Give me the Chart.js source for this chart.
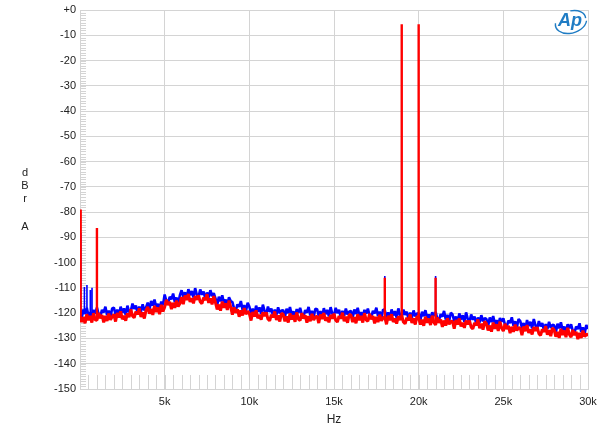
<!DOCTYPE html>
<html>
<head>
<meta charset="utf-8">
<script src="https://cdn.jsdelivr.net/npm/chart.js@4.4.1/dist/chart.umd.min.js"></script>
<style>
  html, body { margin: 0; padding: 0; background: #fff; }
</style>
</head>
<body>
<canvas id="chart" width="600" height="434"></canvas>
<script>
// noise floor readings, one every FREQ_STEP Hz from 0 to 30 kHz (dBrA)
const FREQ_STEP = 100;

const redFloor = [
  -120.8, -123.5, -121.6, -124.0, -120.4, -122.8, -121.1, -123.7, -120.0, -122.6,
  -122.8, -119.9, -122.0, -120.7, -123.6, -121.1, -123.1, -120.2, -122.6, -121.4,
  -120.5, -123.3, -119.9, -121.7, -119.3, -122.4, -121.0, -123.0, -120.1, -121.6,
  -118.5, -121.1, -121.8, -119.4, -120.4, -118.1, -121.5, -119.7, -122.1, -118.8,
  -117.5, -120.2, -118.3, -120.7, -117.1, -119.5, -117.8, -120.4, -116.7, -119.3,
  -117.6, -114.7, -116.8, -115.5, -118.4, -115.9, -117.9, -115.0, -117.4, -116.2,
  -113.6, -116.4, -113.0, -114.8, -112.4, -115.5, -114.1, -116.1, -113.2, -114.7,
  -112.9, -115.5, -116.2, -113.8, -114.8, -112.5, -115.9, -114.1, -116.5, -113.2,
  -115.8, -118.5, -116.6, -119.0, -115.4, -117.8, -116.1, -118.7, -115.0, -117.6,
  -120.6, -117.7, -119.8, -118.5, -121.4, -118.9, -120.9, -118.0, -120.4, -119.2,
  -120.1, -122.9, -119.5, -121.3, -118.9, -122.0, -120.6, -122.6, -119.7, -121.2,
  -119.7, -122.3, -123.0, -120.6, -121.6, -119.3, -122.7, -120.9, -123.3, -120.0,
  -120.5, -123.2, -121.3, -123.7, -120.1, -122.5, -120.8, -123.4, -119.7, -122.3,
  -122.9, -120.0, -122.1, -120.8, -123.7, -121.2, -123.2, -120.3, -122.7, -121.5,
  -121.1, -123.9, -120.5, -122.3, -119.9, -123.0, -121.6, -123.6, -120.7, -122.2,
  -120.2, -122.8, -123.5, -121.1, -122.1, -119.8, -123.2, -121.4, -123.8, -120.5,
  -120.8, -123.5, -121.6, -124.0, -120.4, -122.8, -121.1, -123.7, -120.0, -122.6,
  -123.2, -120.3, -122.4, -121.1, -124.0, -121.5, -123.5, -120.6, -123.0, -121.8,
  -121.6, -124.4, -121.0, -122.8, -120.4, -123.5, -122.1, -124.1, -121.2, -122.7,
  -120.9, -123.5, -124.2, -121.8, -122.8, -120.5, -123.9, -122.1, -124.5, -121.2,
  -121.8, -124.5, -122.6, -125.0, -121.4, -123.8, -122.1, -124.7, -121.0, -123.6,
  -124.6, -121.7, -123.8, -122.5, -125.4, -122.9, -124.9, -122.0, -124.4, -123.2,
  -123.3, -126.1, -122.7, -124.5, -122.1, -125.2, -123.8, -125.8, -122.9, -124.4,
  -122.9, -125.5, -126.2, -123.8, -124.8, -122.5, -125.9, -124.1, -126.5, -123.2,
  -124.1, -126.8, -124.9, -127.3, -123.7, -126.1, -124.4, -127.0, -123.3, -125.9,
  -127.1, -124.2, -126.3, -125.0, -127.9, -125.4, -127.4, -124.5, -126.9, -125.7,
  -125.9, -128.7, -125.3, -127.1, -124.7, -127.8, -126.4, -128.4, -125.5, -127.0,
  -125.5, -128.1, -128.8, -126.4, -127.4, -125.1, -128.5, -126.7, -129.1, -125.8,
  -126.6, -129.3, -127.4, -129.8, -126.2, -128.6, -126.9, -129.5, -125.8, -128.4,
  -129.5, -126.6, -128.7, -127.4, -130.3, -127.8, -129.8, -126.9, -129.3, -128.1,
  -129.0
];

const blueFloor = [
  -119.1, -121.9, -118.5, -120.3, -117.9, -121.0, -119.6, -121.6, -118.7, -120.2,
  -117.8, -120.4, -121.1, -118.7, -119.7, -117.4, -120.8, -119.0, -121.4, -118.1,
  -117.8, -120.5, -118.6, -121.0, -117.4, -119.8, -118.1, -120.7, -117.0, -119.6,
  -119.1, -116.2, -118.3, -117.0, -119.9, -117.4, -119.4, -116.5, -118.9, -117.7,
  -115.8, -118.6, -115.2, -117.0, -114.6, -117.7, -116.3, -118.3, -115.4, -116.9,
  -112.6, -115.2, -115.9, -113.5, -114.5, -112.2, -115.6, -113.8, -116.2, -112.9,
  -110.9, -113.6, -111.7, -114.1, -110.5, -112.9, -111.2, -113.8, -110.1, -112.7,
  -113.5, -110.6, -112.7, -111.4, -114.3, -111.8, -113.8, -110.9, -113.3, -112.1,
  -114.1, -116.9, -113.5, -115.3, -112.9, -116.0, -114.6, -116.6, -113.7, -115.2,
  -115.6, -118.2, -118.9, -116.5, -117.5, -115.2, -118.6, -116.8, -119.2, -115.9,
  -117.4, -120.1, -118.2, -120.6, -117.0, -119.4, -117.7, -120.3, -116.6, -119.2,
  -120.3, -117.4, -119.5, -118.2, -121.1, -118.6, -120.6, -117.7, -120.1, -118.9,
  -118.8, -121.6, -118.2, -120.0, -117.6, -120.7, -119.3, -121.3, -118.4, -119.9,
  -117.9, -120.5, -121.2, -118.8, -119.8, -117.5, -120.9, -119.1, -121.5, -118.2,
  -118.4, -121.1, -119.2, -121.6, -118.0, -120.4, -118.7, -121.3, -117.6, -120.2,
  -120.8, -117.9, -120.0, -118.7, -121.6, -119.1, -121.1, -118.2, -120.6, -119.4,
  -119.1, -121.9, -118.5, -120.3, -117.9, -121.0, -119.6, -121.6, -118.7, -120.2,
  -118.2, -120.8, -121.5, -119.1, -120.1, -117.8, -121.2, -119.4, -121.8, -118.5,
  -118.9, -121.6, -119.7, -122.1, -118.5, -120.9, -119.2, -121.8, -118.1, -120.7,
  -121.5, -118.6, -120.7, -119.4, -122.3, -119.8, -121.8, -118.9, -121.3, -120.1,
  -120.0, -122.8, -119.4, -121.2, -118.8, -121.9, -120.5, -122.5, -119.6, -121.1,
  -119.5, -122.1, -122.8, -120.4, -121.4, -119.1, -122.5, -120.7, -123.1, -119.8,
  -120.5, -123.2, -121.3, -123.7, -120.1, -122.5, -120.8, -123.4, -119.7, -122.3,
  -123.4, -120.5, -122.6, -121.3, -124.2, -121.7, -123.7, -120.8, -123.2, -122.0,
  -122.3, -125.1, -121.7, -123.5, -121.1, -124.2, -122.8, -124.8, -121.9, -123.4,
  -122.0, -124.6, -125.3, -122.9, -123.9, -121.6, -125.0, -123.2, -125.6, -122.3,
  -123.1, -125.8, -123.9, -126.3, -122.7, -125.1, -123.4, -126.0, -122.3, -124.9,
  -126.0, -123.1, -125.2, -123.9, -126.8, -124.3, -126.3, -123.4, -125.8, -124.6,
  -124.8, -127.6, -124.2, -126.0, -123.6, -126.7, -125.3, -127.3, -124.4, -125.9,
  -124.4, -127.0, -127.7, -125.3, -126.3, -124.0, -127.4, -125.6, -128.0, -124.7,
  -126.3
];

// discrete tones (Hz, dBrA)
const redSpikeHz = [40, 1000, 18000, 19000, 20000, 21000];
const redSpikeDb = [-79, -86.3, -106, -5.6, -5.6, -106];
const blueSpikeHz = [50, 260, 410, 610, 710, 18000, 21000];
const blueSpikeDb = [-88.3, -109.6, -108.8, -110.8, -109.9, -105.3, -105.3];

const xTickLabels = { 5000: '5k', 10000: '10k', 15000: '15k', 20000: '20k', 25000: '25k', 30000: '30k' };

const FONT = "'Liberation Sans', Arial, sans-serif";
const GRID = '#d4d4d4';

const floorPoints = levels => levels.map((y, i) => ({ x: i * FREQ_STEP, y }));
const spikePoints = (hz, db, floor) => hz.flatMap((f, i) => [
  { x: f, y: floor[Math.round(f / FREQ_STEP)] },
  { x: f, y: db[i] },
  { x: f, y: null }
]);

const decor = {
  id: 'decor',
  beforeDatasetsDraw(chart) {
    const { ctx, chartArea: a, scales: { x, y } } = chart;
    ctx.save();
    ctx.strokeStyle = GRID;
    ctx.lineWidth = 1;
    ctx.beginPath();
    for (let f = 500; f < 30000; f += 500) {
      const px = Math.round(x.getPixelForValue(f)) + 0.5;
      ctx.moveTo(px, a.bottom);
      ctx.lineTo(px, a.bottom - 14);
    }
    for (let d = -149; d < 0; d++) {
      const py = Math.round(y.getPixelForValue(d)) + 0.5;
      ctx.moveTo(a.left, py);
      ctx.lineTo(a.left + 6, py);
    }
    ctx.stroke();
    ctx.restore();
  },
  afterDraw(chart) {
    const { ctx } = chart;
    ctx.save();
    // stacked y axis title
    ctx.fillStyle = '#222';
    ctx.font = '11px ' + FONT;
    ctx.textAlign = 'center';
    ctx.textBaseline = 'middle';
    [['d', 173], ['B', 186], ['r', 199], ['A', 227]].forEach(([t, py]) => ctx.fillText(t, 25, py));
    // AP logo
    ctx.fillStyle = '#fff';
    ctx.fillRect(552, 11, 34, 23);
    ctx.strokeStyle = '#1f7cc4';
    ctx.lineWidth = 1.4;
    ctx.beginPath();
    ctx.ellipse(571, 22, 16, 11, -0.3, 0.1 * Math.PI, 1.1 * Math.PI);
    ctx.stroke();
    ctx.beginPath();
    ctx.ellipse(571, 21, 15, 10, -0.3, 1.55 * Math.PI, 2.05 * Math.PI);
    ctx.stroke();
    ctx.fillStyle = '#1f7cc4';
    ctx.font = 'italic bold 18px ' + FONT;
    ctx.textAlign = 'center';
    ctx.fillText('Ap', 570, 21);
    ctx.restore();
  }
};

new Chart(document.getElementById('chart'), {
  type: 'line',
  data: {
    datasets: [
      { data: spikePoints(redSpikeHz, redSpikeDb, redFloor), borderColor: '#ff0000', borderWidth: 2.4, order: 0 },
      { data: floorPoints(redFloor), borderColor: '#ff0000', borderWidth: 3, order: 1 },
      { data: spikePoints(blueSpikeHz, blueSpikeDb, blueFloor), borderColor: '#0000ff', borderWidth: 1.6, order: 2 },
      { data: floorPoints(blueFloor), borderColor: '#0000ff', borderWidth: 2.6, order: 3 }
    ]
  },
  options: {
    responsive: false,
    animation: false,
    parsing: false,
    spanGaps: false,
    elements: { point: { radius: 0 }, line: { tension: 0, borderJoinStyle: 'bevel' } },
    layout: { padding: { top: 10, right: 12, left: 0, bottom: 0 } },
    plugins: { legend: { display: false }, tooltip: { enabled: false } },
    scales: {
      x: {
        type: 'linear',
        min: 0,
        max: 30000,
        afterFit: s => { s.height = 45; s.paddingRight = 0; s.paddingLeft = 0; },
        grid: { color: GRID, drawTicks: false },
        border: { color: GRID },
        ticks: {
          stepSize: 5000,
          autoSkip: false,
          maxRotation: 0,
          padding: 6,
          color: '#222',
          font: { family: FONT, size: 11 },
          callback: v => xTickLabels[v] || ''
        },
        title: { display: true, text: 'Hz', color: '#222', font: { family: FONT, size: 12 }, padding: { top: 0, bottom: 7 } }
      },
      y: {
        min: -150,
        max: 0,
        afterFit: s => { s.width = 80; s.paddingTop = 0; s.paddingBottom = 0; },
        grid: { color: GRID, drawTicks: false },
        border: { color: GRID },
        ticks: {
          stepSize: 10,
          autoSkip: false,
          padding: 4,
          color: '#222',
          font: { family: FONT, size: 11 },
          callback: v => v === 0 ? '+0' : String(v)
        }
      }
    }
  },
  plugins: [decor]
});
</script>
</body>
</html>
